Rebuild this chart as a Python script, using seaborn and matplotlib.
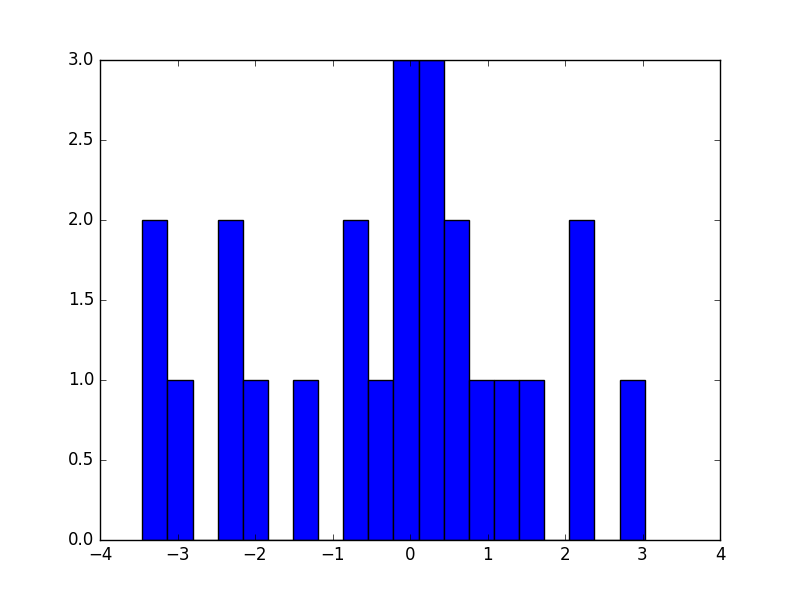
import matplotlib
matplotlib.use('Agg')
import matplotlib.pyplot as plt
import seaborn as sns
import numpy as np
import pandas as pd

# histogram: 20 equal bins between the data min and max
data_min = -3.454
data_max = 3.028
n_bins = 20
counts = [2, 1, 0, 2, 1, 0, 1, 0, 2, 1, 3, 3, 2, 1, 1, 1, 0, 2, 0, 1]

edges = np.linspace(data_min, data_max, n_bins + 1)
df = pd.DataFrame({'x': (edges[:-1] + edges[1:]) / 2, 'n': counts})

plt.style.use('classic')
fig, ax = plt.subplots(figsize=(8, 6), dpi=100)

sns.histplot(data=df, x='x', weights='n', bins=n_bins,
             binrange=(data_min, data_max), color='b', alpha=1,
             edgecolor='k', linewidth=1, ax=ax)

ax.set_xlim(-4, 4)
ax.set_ylim(0, 3)
ax.set_ylabel('')
ax.set_xlabel('')

plt.savefig('out.png', dpi=100)
